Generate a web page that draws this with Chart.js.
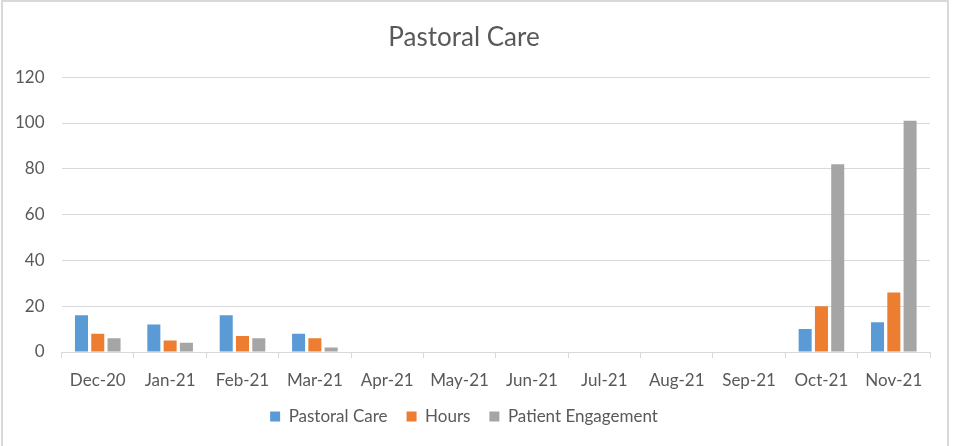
<!DOCTYPE html>
<html>
<head>
<meta charset="utf-8">
<script src="https://cdn.jsdelivr.net/npm/chart.js@4"></script>
<style>
  html, body { margin: 0; padding: 0; background: #fff; }
  #wrap {
    position: absolute; left: 1px; top: 0px;
    width: 948px; height: 446px;
    border: 2px solid #d9d9d9; border-bottom: none;
    box-sizing: border-box;
  }
</style>
</head>
<body>
<div id="wrap"><canvas id="chart"></canvas></div>
<script>
// Values
const months = ["Dec-20", "Jan-21", "Feb-21", "Mar-21", "Apr-21", "May-21",
  "Jun-21", "Jul-21", "Aug-21", "Sep-21", "Oct-21", "Nov-21"];
const pastoralCare = [16, 12, 16, 8, 0, 0, 0, 0, 0, 0, 10, 13];
const hours = [8, 5, 7, 6, 0, 0, 0, 0, 0, 0, 20, 26];
const patientEngagement = [6, 4, 6, 2, 0, 0, 0, 0, 0, 0, 82, 101];
const yTicks = [0, 20, 40, 60, 80, 100, 120];

const textColor = "#595959";
const fontFamily = "Lato, 'Liberation Sans', sans-serif";

new Chart(document.getElementById("chart"), {
  type: "bar",
  data: {
    labels: months,
    datasets: [
      { label: "Pastoral Care", data: pastoralCare, backgroundColor: "#5b9bd5" },
      { label: "Hours", data: hours, backgroundColor: "#ed7d31" },
      { label: "Patient Engagement", data: patientEngagement, backgroundColor: "#a5a5a5" },
    ],
  },
  options: {
    responsive: true,
    maintainAspectRatio: false,
    animation: false,
    categoryPercentage: 0.675,
    barPercentage: 0.8,
    layout: { padding: { left: -5, right: 17, top: 8, bottom: 11 } },
    plugins: {
      title: {
        display: true,
        text: "Pastoral Care",
        color: textColor,
        font: { family: fontFamily, size: 26, weight: "normal" },
        padding: { top: 12, bottom: 24 },
      },
      legend: {
        position: "bottom",
        labels: {
          color: textColor,
          font: { family: fontFamily, size: 17 },
          boxWidth: 10,
          boxHeight: 10,
          padding: 19,
        },
      },
      tooltip: { enabled: false },
    },
    scales: {
      x: {
        // keep the axis block tight so the legend sits closer to the labels
        afterFit: (axis) => { axis.height = 37; },
        grid: {
          drawOnChartArea: false,
          color: "#d9d9d9",
          tickLength: 6,
        },
        border: { color: "#d9d9d9", width: 1 },
        ticks: {
          color: textColor,
          font: { family: fontFamily, size: 17 },
          maxRotation: 0,
          padding: 12,
        },
      },
      y: {
        min: 0,
        max: 120,
        afterBuildTicks: (axis) => { axis.ticks = yTicks.map((v) => ({ value: v })); },
        grid: { color: "#d9d9d9", drawTicks: false, lineWidth: 1 },
        border: { display: false },
        ticks: {
          color: textColor,
          font: { family: fontFamily, size: 17 },
          padding: 17,
        },
      },
    },
  },
});
</script>
</body>
</html>
